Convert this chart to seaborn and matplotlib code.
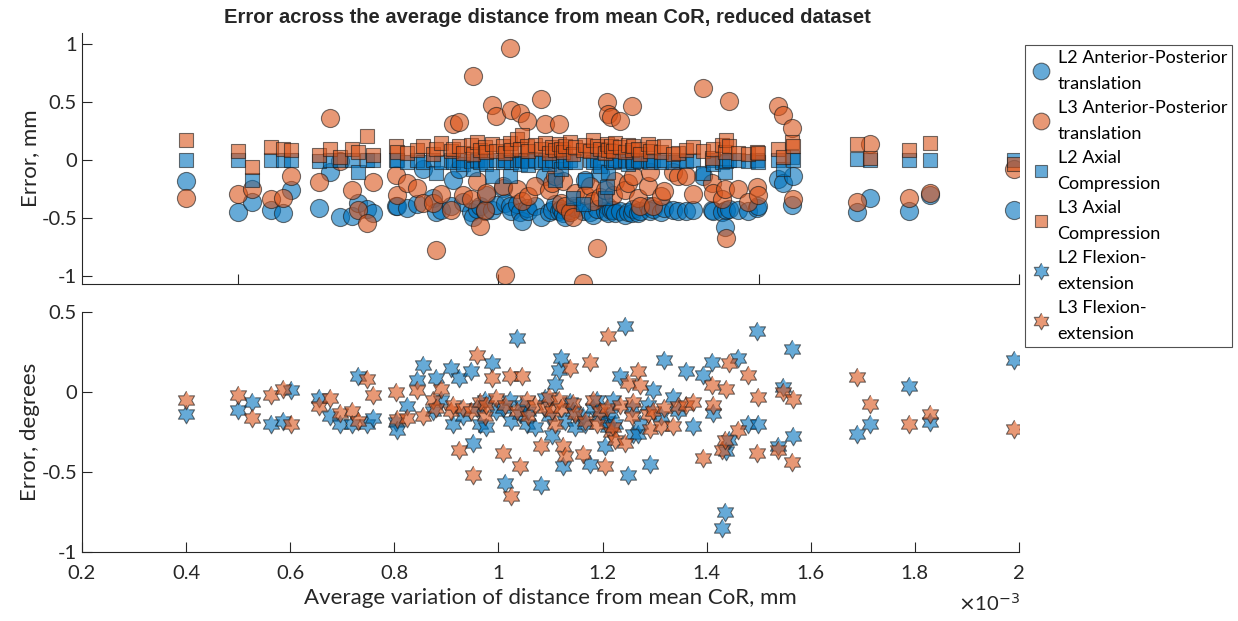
import numpy as np
import pandas as pd
import matplotlib
matplotlib.use("Agg")
import matplotlib.pyplot as plt
from matplotlib.lines import Line2D
import seaborn as sns

sns.set_theme(style="white")
plt.rcParams['font.family'] = ['Lato', 'DejaVu Sans']

# x: average variation of distance from mean CoR (units of 1e-3 mm)
x_dist = [0.400, 0.500, 0.527, 0.563, 0.586, 0.601, 0.655, 0.676, 0.696, 0.718,
          0.731, 0.747, 0.759, 0.803, 0.806, 0.824, 0.843, 0.855, 0.874, 0.881,
          0.890, 0.908, 0.913, 0.924, 0.932, 0.948, 0.951, 0.958, 0.965, 0.974,
          0.977, 0.987, 0.995, 1.009, 1.013, 1.022, 1.025, 1.035, 1.041, 1.045,
          1.054, 1.056, 1.070, 1.082, 1.089, 1.097, 1.102, 1.109, 1.116, 1.121,
          1.124, 1.128, 1.137, 1.143, 1.147, 1.163, 1.166, 1.176, 1.182, 1.189,
          1.195, 1.205, 1.208, 1.211, 1.217, 1.221, 1.224, 1.233, 1.243, 1.249,
          1.256, 1.259, 1.269, 1.272, 1.288, 1.291, 1.296, 1.313, 1.318, 1.336,
          1.345, 1.361, 1.374, 1.393, 1.410, 1.413, 1.430, 1.435, 1.438, 1.442,
          1.461, 1.480, 1.496, 1.499, 1.537, 1.547, 1.564, 1.566, 1.688, 1.714,
          1.789, 1.829, 1.990]

# Error, mm (top panel)
l2_ap = [-0.18, -0.45, -0.36, -0.43, -0.46, -0.26, -0.41, -0.10, -0.49, -0.48,
         -0.37, -0.42, -0.46, -0.40, -0.40, -0.41, -0.38, -0.08, -0.33, -0.45,
         -0.43, -0.40, -0.17, -0.08, -0.36, -0.45, -0.49, -0.42, -0.40, -0.44,
         -0.30, -0.43, -0.39, -0.24, -0.37, -0.40, -0.44, -0.38, -0.45, -0.53,
         -0.41, -0.44, -0.40, -0.49, -0.14, -0.45, -0.43, -0.38, -0.44, -0.42,
         -0.46, -0.49, -0.43, -0.40, -0.41, -0.44, -0.17, -0.45, -0.47, -0.42,
         -0.11, -0.44, -0.40, -0.46, -0.43, -0.43, -0.46, -0.44, -0.47, -0.45,
         -0.46, -0.42, -0.46, -0.44, -0.40, -0.44, -0.42, -0.45, -0.41, -0.43,
         -0.44, -0.44, -0.43, -0.14, -0.43, -0.44, -0.45, -0.58, -0.43, -0.42,
         -0.43, -0.44, -0.41, -0.40, -0.16, -0.20, -0.39, -0.14, -0.45, -0.33,
         -0.44, -0.30, -0.43]
l3_ap = [-0.33, -0.29, -0.25, -0.34, -0.33, -0.14, -0.19, 0.36, -0.01, -0.26,
         -0.43, -0.54, -0.19, -0.13, -0.30, -0.20, -0.24, -0.37, -0.37, -0.78,
         -0.29, -0.43, 0.31, 0.33, -0.30, -0.34, 0.73, -0.18, -0.57, -0.43,
         -0.28, 0.48, 0.38, -0.22, -0.99, 0.965, 0.43, -0.25, 0.41, -0.35,
         0.34, -0.31, -0.22, 0.53, 0.31, -0.26, -0.20, -0.14, 0.31, -0.37,
         -0.18, -0.40, -0.45, -0.49, -0.28, -1.06, -0.30, -0.22, -0.35, -0.76,
         -0.32, -0.26, 0.50, 0.40, 0.37, -0.30, -0.18, 0.34, -0.26, -0.20,
         0.47, -0.14, -0.33, -0.40, -0.22, -0.10, -0.40, -0.31, -0.27, -0.10,
         -0.14, -0.14, -0.29, 0.62, -0.20, -0.28, -0.34, -0.25, -0.67, 0.51,
         -0.25, -0.36, -0.23, -0.30, 0.47, 0.39, 0.28, -0.34, -0.36, 0.14,
         -0.33, -0.28, -0.08]
l2_ac = [0.00, 0.00, -0.17, 0.00, 0.00, 0.00, -0.01, 0.00, 0.00, 0.00,
         -0.10, 0.00, 0.00, 0.00, 0.00, -0.02, 0.00, -0.02, 0.00, -0.11,
         -0.02, 0.00, -0.02, 0.00, -0.03, -0.01, -0.08, 0.00, -0.02, 0.00,
         -0.03, -0.14, 0.00, -0.02, 0.00, -0.14, -0.02, 0.00, -0.03, 0.00,
         -0.01, -0.04, 0.00, -0.02, 0.00, -0.03, 0.00, -0.17, -0.01, -0.08,
         0.00, -0.02, 0.00, -0.33, -0.02, -0.38, -0.17, 0.00, -0.02, 0.00,
         -0.05, -0.33, -0.23, -0.10, 0.00, -0.02, 0.00, -0.01, 0.00, -0.03,
         0.00, -0.02, 0.00, -0.01, 0.00, -0.02, 0.00, -0.02, 0.00, -0.02,
         0.00, -0.01, 0.00, -0.11, 0.00, -0.03, -0.02, -0.10, -0.01, 0.00,
         0.00, -0.01, 0.00, -0.02, 0.00, -0.08, 0.03, 0.00, 0.01, 0.00,
         0.00, 0.00, 0.00]
l3_ac = [0.17, 0.08, -0.06, 0.11, 0.10, 0.09, 0.04, 0.10, 0.03, 0.10,
         0.07, 0.21, 0.04, 0.12, 0.07, 0.06, 0.09, 0.12, 0.05, 0.10,
         0.15, 0.08, 0.10, 0.12, 0.06, 0.13, 0.05, 0.16, 0.09, 0.11,
         0.07, 0.14, 0.08, 0.12, 0.06, 0.15, 0.09, 0.18, 0.10, 0.22,
         0.12, 0.08, 0.13, 0.10, 0.15, 0.06, 0.11, 0.09, 0.14, 0.10,
         0.07, 0.12, 0.16, 0.05, 0.11, 0.09, 0.13, 0.08, 0.17, 0.12,
         0.10, 0.06, 0.14, 0.09, 0.12, 0.08, 0.15, 0.11, 0.07, 0.13,
         0.09, 0.12, 0.10, 0.05, 0.14, 0.08, 0.11, 0.07, 0.12, 0.05,
         0.06, 0.09, 0.11, 0.08, 0.02, 0.10, 0.13, 0.07, 0.17, 0.12,
         0.06, 0.05, 0.07, 0.06, 0.10, 0.03, 0.16, 0.12, 0.14, 0.02,
         0.085, 0.15, -0.03]

# Error, degrees (bottom panel)
l2_fe = [-0.14, -0.11, -0.06, -0.20, -0.18, 0.01, -0.04, -0.15, -0.20, -0.20,
         0.10, -0.20, -0.16, -0.19, -0.24, -0.09, 0.075, 0.17, -0.12, 0.085,
         -0.05, 0.15, -0.20, 0.085, -0.15, 0.13, -0.32, -0.10, -0.20, -0.05,
         -0.22, 0.18, -0.12, -0.10, -0.57, -0.05, -0.18, 0.335, -0.14, -0.08,
         -0.20, -0.12, -0.22, -0.58, -0.04, -0.15, -0.27, 0.05, 0.14, 0.21,
         -0.46, -0.18, -0.06, -0.12, -0.22, -0.15, -0.20, -0.45, -0.10, -0.05,
         -0.15, -0.34, -0.18, -0.22, -0.13, -0.05, -0.20, 0.10, 0.41, -0.52,
         -0.10, -0.26, -0.26, -0.20, -0.08, -0.45, 0.01, -0.15, 0.20, -0.03,
         -0.12, 0.13, -0.21, 0.105, 0.19, -0.13, -0.85, -0.75, -0.37, -0.30,
         0.21, -0.20, 0.38, -0.20, -0.34, 0.03, 0.27, -0.275, -0.265, -0.20,
         0.035, -0.19, 0.20]
l3_fe = [-0.05, -0.02, -0.16, -0.02, 0.02, -0.20, -0.09, -0.04, -0.13, -0.12,
         -0.18, 0.08, -0.02, 0.00, -0.17, -0.165, 0.01, -0.15, -0.05, -0.10,
         0.02, -0.12, -0.08, -0.36, -0.10, -0.12, -0.52, 0.23, -0.06, -0.15,
         -0.08, 0.09, -0.04, -0.38, -0.08, 0.10, -0.65, -0.12, -0.46, 0.10,
         -0.05, -0.15, -0.08, -0.34, -0.10, -0.03, -0.12, -0.20, -0.05, -0.10,
         -0.34, -0.40, 0.15, -0.07, -0.14, -0.39, -0.18, 0.19, -0.05, -0.20,
         -0.12, -0.46, -0.10, 0.35, -0.25, -0.22, -0.30, -0.08, -0.32, 0.055,
         -0.15, -0.06, 0.13, 0.045, -0.14, -0.23, -0.12, -0.21, -0.10, -0.21,
         -0.09, -0.08, -0.06, -0.41, 0.045, -0.08, -0.36, -0.30, 0.02, 0.18,
         -0.24, 0.105, -0.38, -0.03, -0.36, 0.00, -0.44, -0.045, 0.095, -0.075,
         -0.20, -0.135, -0.23]

labels = ["L2 Anterior-Posterior\ntranslation", "L3 Anterior-Posterior\ntranslation",
          "L2 Axial\nCompression", "L3 Axial\nCompression",
          "L2 Flexion-\nextension", "L3 Flexion-\nextension"]

BLUE = "#0072BD"
ORANGE = "#D95319"
EDGE = "#1a1a1a"
TXT = "#262626"

# hexagram marker
ang = np.pi / 2 + np.arange(12) * np.pi / 6
rad = np.where(np.arange(12) % 2 == 0, 1.0, 1 / np.sqrt(3))
hexagram = list(zip(rad * np.cos(ang), rad * np.sin(ang)))

df = pd.DataFrame({"x": x_dist, "l2_ap": l2_ap, "l3_ap": l3_ap, "l2_ac": l2_ac,
                   "l3_ac": l3_ac, "l2_fe": l2_fe, "l3_fe": l3_fe})

fig = plt.figure(figsize=(12.38, 6.21), dpi=100)
ax1 = fig.add_axes([0.0662, 0.5427, 0.7569, 0.4045])
ax2 = fig.add_axes([0.0662, 0.1111, 0.7569, 0.3865])

common = dict(alpha=0.6, edgecolor=EDGE, linewidth=0.8, legend=False)
S_CIRC, S_SQ, S_STAR = 170, 95, 180
sns.scatterplot(data=df, x="x", y="l2_ap", color=BLUE, marker="o", s=S_CIRC, ax=ax1, **common)
sns.scatterplot(data=df, x="x", y="l3_ap", color=ORANGE, marker="o", s=S_CIRC, ax=ax1, **common)
sns.scatterplot(data=df, x="x", y="l2_ac", color=BLUE, marker="s", s=S_SQ, ax=ax1, **common)
sns.scatterplot(data=df, x="x", y="l3_ac", color=ORANGE, marker="s", s=S_SQ, ax=ax1, **common)
sns.scatterplot(data=df, x="x", y="l2_fe", color=BLUE, marker=hexagram, s=S_STAR, ax=ax2, **common)
sns.scatterplot(data=df, x="x", y="l3_fe", color=ORANGE, marker=hexagram, s=S_STAR, ax=ax2, **common)

for ax in (ax1, ax2):
    ax.set_xlim(0.2, 2.0)
    for side in ("top", "right"):
        ax.spines[side].set_visible(False)
    for side in ("left", "bottom"):
        ax.spines[side].set_color(TXT)
        ax.spines[side].set_linewidth(0.8)
    ax.tick_params(direction="in", length=7, width=0.8, color=TXT,
                   labelcolor=TXT, labelsize=14.5, left=True, bottom=True)
    ax.tick_params(axis="x", pad=9)
    ax.set_facecolor("white")

ax1.set_ylim(-1.07, 1.1)
ax1.set_yticks([-1, -0.5, 0, 0.5, 1])
ax1.set_yticklabels(["-1", "-0.5", "0", "0.5", "1"])
ax1.set_xticks([0.5, 1.0, 1.5, 2.0])
ax1.set_xticklabels([])
ax1.set_xlabel("")
ax1.set_ylabel("Error, mm", fontsize=16, color=TXT)

ax2.set_ylim(-1.0, 0.5)
ax2.set_yticks([-1, -0.5, 0, 0.5])
ax2.set_yticklabels(["-1", "-0.5", "0", "0.5"])
xt = [0.2, 0.4, 0.6, 0.8, 1.0, 1.2, 1.4, 1.6, 1.8, 2.0]
ax2.set_xticks(xt)
ax2.set_xticklabels(["0.2", "0.4", "0.6", "0.8", "1", "1.2", "1.4", "1.6", "1.8", "2"])
ax2.set_xlabel("Average variation of distance from mean CoR, mm", fontsize=16, color=TXT,
               labelpad=5)
ax2.set_ylabel("Error, degrees", fontsize=16, color=TXT)
ax1.yaxis.set_label_coords(-0.045, 0.5)
ax2.yaxis.set_label_coords(-0.045, 0.5)

fig.text(0.824, 0.012, r"$\times$10$^{-3}$", ha="right", va="bottom", fontsize=14.5, color=TXT)
fig.text(0.442, 0.972, "Error across the average distance from mean CoR, reduced dataset",
         ha="center", va="center", fontsize=14.5, fontweight="bold",
         family=["Liberation Sans", "DejaVu Sans"], color=TXT)

handles = []
for col, mk, ms in [(BLUE, "o", 12), (ORANGE, "o", 12), (BLUE, "s", 9),
                    (ORANGE, "s", 9), (BLUE, hexagram, 12), (ORANGE, hexagram, 12)]:
    handles.append(Line2D([], [], linestyle="none", marker=mk, markersize=ms,
                          markerfacecolor=col, markeredgecolor=EDGE, alpha=0.6,
                          markeredgewidth=0.8))
leg = fig.legend(handles, labels, loc="upper left", bbox_to_anchor=(0.828, 0.9275),
                 frameon=True, fancybox=False, edgecolor=TXT, fontsize=13,
                 handletextpad=0.3, handlelength=1.2, labelspacing=0.45,
                 borderpad=0.3, borderaxespad=0)
leg.get_frame().set_linewidth(0.8)
for t in leg.get_texts():
    t.set_color("black")
    t.set_linespacing(1.75)

fig.savefig("out.png", dpi=100, facecolor="white")
